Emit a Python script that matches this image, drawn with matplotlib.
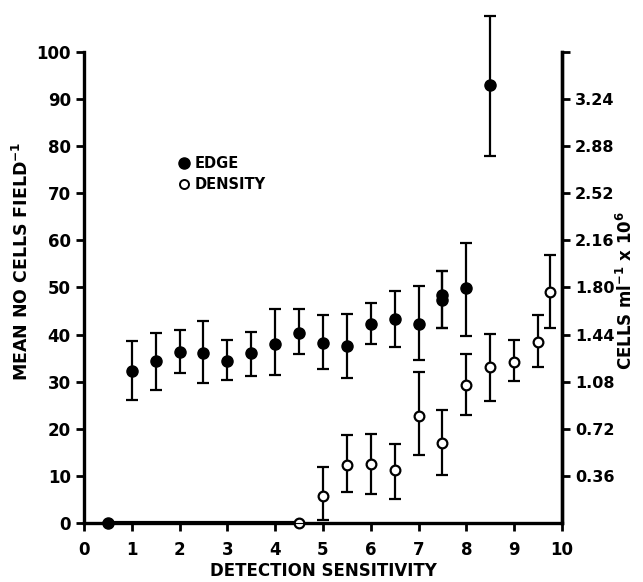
import matplotlib
matplotlib.use("Agg")
import matplotlib.pyplot as plt
from matplotlib.lines import Line2D

# data (left axis units: mean no. cells per field)
edge_x = [0.5, 1, 1.5, 2, 2.5, 3, 3.5, 4, 4.5, 5, 5.5, 6, 6.5, 7, 7.5, 7.5, 8, 8.5]
edge_y = [0, 32.3, 34.4, 36.3, 36.0, 34.3, 36.1, 38.1, 40.4, 38.3, 37.6, 42.3, 43.3, 42.3, 48.4, 47.3, 49.8, 92.9]
edge_lo = [0, 26.2, 28.3, 31.8, 29.8, 30.3, 31.3, 31.4, 35.8, 32.7, 30.8, 38.1, 37.4, 34.6, 41.5, 41.5, 39.7, 78.0]
edge_hi = [0, 38.6, 40.4, 40.9, 42.9, 38.8, 40.6, 45.5, 45.5, 44.1, 44.4, 46.6, 49.3, 50.4, 53.4, 53.4, 59.5, 107.7]

dens_x = [4.5, 5, 5.5, 6, 6.5, 7, 7.5, 8, 8.5, 9, 9.5, 9.75]
dens_y = [0, 5.8, 12.4, 12.6, 11.2, 22.7, 16.9, 29.3, 33.2, 34.2, 38.5, 49.0]
dens_lo = [0, 0.6, 6.5, 6.1, 5.1, 14.4, 10.1, 23.0, 26.0, 30.2, 33.2, 41.5]
dens_hi = [0, 11.8, 18.6, 18.8, 16.8, 32.0, 23.9, 35.8, 40.1, 38.9, 44.1, 56.9]

right_ticks = [10, 20, 30, 40, 50, 60, 70, 80, 90]
right_labels = ["0.36", "0.72", "1.08", "1.44", "1.80", "2.16", "2.52", "2.88", "3.24"]

plt.rcParams["font.family"] = "DejaVu Sans"
plt.rcParams["font.weight"] = "bold"
plt.rcParams["mathtext.default"] = "bf"

fig = plt.figure(figsize=(6.43, 5.82), dpi=100)
ax = fig.add_axes([0.1306, 0.1014, 0.7434, 0.8093])

# thick zero segment between the first edge point and first density point
ax.plot([edge_x[0], dens_x[0]], [edge_y[0], dens_y[0]], color="black", lw=3, zorder=3)

e_err = [[y - lo for y, lo in zip(edge_y, edge_lo)], [hi - y for y, hi in zip(edge_y, edge_hi)]]
d_err = [[y - lo for y, lo in zip(dens_y, dens_lo)], [hi - y for y, hi in zip(dens_y, dens_hi)]]

ax.errorbar(edge_x, edge_y, yerr=e_err, fmt="o", color="black", ms=8,
            elinewidth=1.6, capsize=4, capthick=1.6, clip_on=False, zorder=4)
ax.errorbar(dens_x, dens_y, yerr=d_err, fmt="o", color="black", mfc="white", mec="black",
            mew=1.6, ms=7, elinewidth=1.6, capsize=4, capthick=1.6, clip_on=False, zorder=5)

ax.set_xlim(0, 10)
ax.set_ylim(0, 100)
ax.set_xticks(range(11))
ax.set_yticks(range(0, 101, 10))
ax.tick_params(axis="y", labelsize=12, width=2, length=6, direction="out")
ax.tick_params(axis="x", labelsize=12, width=2, length=6, direction="out", pad=7)

ax.spines["top"].set_visible(False)
for s in ["left", "right", "bottom"]:
    ax.spines[s].set_linewidth(2.4)

ax.set_xlabel("DETECTION SENSITIVITY", fontsize=12, fontweight="bold", labelpad=2)
ax.set_ylabel("MEAN NO CELLS FIELD$^{-1}$", fontsize=12.5, fontweight="bold")
ax.yaxis.set_label_coords(-0.108, 0.556)

ax2 = ax.twinx()
ax2.set_ylim(0, 100)
ax2.set_yticks(right_ticks + [100])
ax2.set_yticklabels(right_labels + [""])
ax2.tick_params(labelsize=11.5, width=2, length=6, direction="out")
ax2.spines["top"].set_visible(False)
ax2.spines["right"].set_linewidth(2.4)
ax2.set_ylabel("CELLS ml$^{-1}$ x 10$^{6}$", fontsize=12, fontweight="bold")
ax2.yaxis.set_label_coords(1.113, 0.493)

handles = [Line2D([], [], marker="o", ls="none", color="black", ms=8),
           Line2D([], [], marker="o", ls="none", mfc="white", mec="black", mew=1.4, ms=6.5)]
ax.legend(handles, ["EDGE", "DENSITY"], loc="upper left", bbox_to_anchor=(0.185, 0.795),
          frameon=False, handlelength=0.6, handletextpad=0.4, labelspacing=0.4,
          borderpad=0, prop={"size": 10.5, "weight": "bold"})

fig.savefig("out.png", dpi=100)
